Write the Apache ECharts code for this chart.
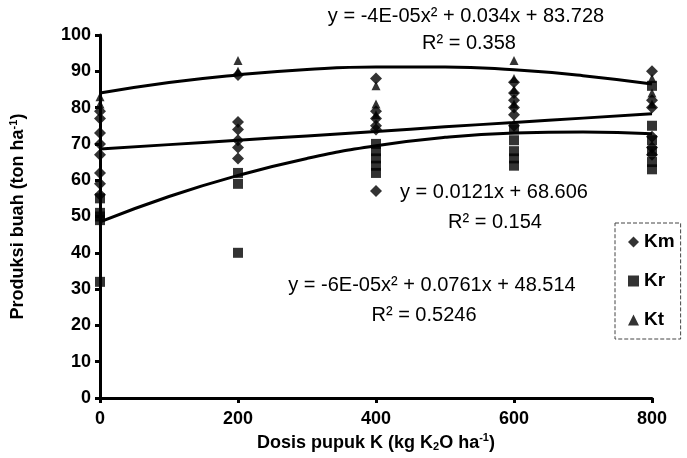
<!DOCTYPE html>
<html>
<head>
<meta charset="utf-8">
<script src="https://cdn.jsdelivr.net/npm/echarts@6/dist/echarts.min.js"></script>
<style>
  html, body { margin: 0; padding: 0; background: #fff; }
  #graph { width: 687px; height: 458px; }
</style>
</head>
<body>
<div id="graph"></div>
<script>
// K dose levels (kg K2O/ha)
var doses = [0, 200, 400, 600, 800];

// replicate yields per dose
var kmValues = [
  [79, 77, 73, 70, 67, 62, 59, 56],
  [89, 76, 74, 71, 69, 66],
  [88, 79, 77, 75, 74, 57],
  [87, 84, 82, 80, 78, 75],
  [90, 82, 80, 72, 69, 67]
];
var krValues = [
  [55, 51, 50, 49, 32],
  [62, 59, 40],
  [70, 68, 66, 64, 62],
  [74, 71, 68, 66, 64],
  [86, 75, 71, 68, 65, 63]
];
var ktValues = [
  [83, 81],
  [93, 90],
  [86, 81, 78],
  [93, 88, 85, 81],
  [88, 84, 81]
];

// trend lines as drawn on the figure
var trendX = [0, 100, 200, 300, 400, 500, 600, 700, 800];
var ktTrend = [84, 86.9, 89, 90.5, 91.2, 91.2, 90.4, 88.8, 86.5];
var kmTrend = [68.6, 69.8, 71, 72.2, 73.4, 74.7, 75.9, 77.1, 78.3];
var krTrend = [48.5, 55.5, 61.3, 66, 69.5, 71.8, 73, 73.3, 72.8];

var font = "'Liberation Sans', Arial, sans-serif";

var toPoints = (vals) => {
  var pts = [];
  vals.forEach((arr, i) => arr.forEach(v => pts.push([doses[i], v])));
  return pts;
};
var toLine = (ys) => trendX.map((x, i) => [x, ys[i]]);

var chart = echarts.init(document.getElementById('graph'));

var eqText = (txt, x, y) => ({
  type: 'text',
  x: x,
  y: y,
  style: {
    text: txt,
    font: '20px ' + font,
    fill: '#000',
    align: 'center',
    verticalAlign: 'middle'
  }
});

var lineSeries = (ys) => ({
  type: 'line',
  data: toLine(ys),
  smooth: true,
  symbol: 'none',
  lineStyle: { color: '#000', width: 3 },
  silent: true,
  z: 3
});

var option = {
  animation: false,
  backgroundColor: '#fff',
  grid: { left: 100, right: 35, top: 35, bottom: 60 },
  legend: {
    orient: 'vertical',
    left: 615,
    top: 223,
    width: 67,
    padding: [8, 6, 8, 13],
    itemGap: 17,
    itemWidth: 11,
    itemHeight: 11,
    borderColor: '#444',
    borderWidth: 1,
    borderType: 'dashed',
    data: [
      { name: 'Km', icon: 'diamond' },
      { name: 'Kr', icon: 'rect' },
      { name: 'Kt', icon: 'triangle' }
    ],
    textStyle: { fontFamily: font, fontSize: 19, fontWeight: 'bold', color: '#000', lineHeight: 22 }
  },
  xAxis: {
    type: 'value',
    min: 0,
    max: 800,
    interval: 200,
    name: '{b|Dosis pupuk K (kg K}{sub|2}{b|O ha}{sup|-1}{b|)}',
    nameLocation: 'middle',
    nameGap: 33,
    nameTextStyle: {
      rich: {
        b: { fontFamily: font, fontSize: 18, fontWeight: 'bold', color: '#000' },
        sub: { fontFamily: font, fontSize: 11, fontWeight: 'bold', color: '#000', padding: [9, 0, 0, 0] },
        sup: { fontFamily: font, fontSize: 11, fontWeight: 'bold', color: '#000', padding: [0, 0, 9, 0] }
      }
    },
    axisLine: { lineStyle: { color: '#000', width: 3 } },
    axisTick: { show: true, length: 5, lineStyle: { color: '#000', width: 3 } },
    axisLabel: { fontFamily: font, fontSize: 18, fontWeight: 'bold', color: '#000', margin: 12 },
    splitLine: { show: false }
  },
  yAxis: {
    type: 'value',
    min: 0,
    max: 100,
    interval: 10,
    name: '{b|Produksi buah (ton ha}{sup|-1}{b|)}',
    nameLocation: 'middle',
    nameGap: 72,
    nameTextStyle: {
      rich: {
        b: { fontFamily: font, fontSize: 18, fontWeight: 'bold', color: '#000' },
        sup: { fontFamily: font, fontSize: 11, fontWeight: 'bold', color: '#000', padding: [0, 0, 9, 0] }
      }
    },
    axisLine: { show: true, lineStyle: { color: '#000', width: 3 } },
    axisTick: { show: true, length: 5, lineStyle: { color: '#000', width: 3 } },
    axisLabel: { fontFamily: font, fontSize: 18, fontWeight: 'bold', color: '#000', margin: 9 },
    splitLine: { show: false }
  },
  graphic: [
    eqText('y = -4E-05x\u00b2 + 0.034x + 83.728', 466, 16),
    eqText('R\u00b2 = 0.358', 469, 43),
    eqText('y = 0.0121x + 68.606', 494, 192),
    eqText('R\u00b2 = 0.154', 495, 222),
    eqText('y = -6E-05x\u00b2 + 0.0761x + 48.514', 432, 285),
    eqText('R\u00b2 = 0.5246', 424, 315)
  ],
  series: [
    lineSeries(ktTrend),
    lineSeries(kmTrend),
    lineSeries(krTrend),
    {
      name: 'Km', type: 'scatter', symbol: 'diamond', symbolSize: 12,
      itemStyle: { color: '#000' }, data: toPoints(kmValues), z: 4
    },
    {
      name: 'Kr', type: 'scatter', symbol: 'rect', symbolSize: 10,
      itemStyle: { color: '#000' }, data: toPoints(krValues), z: 4
    },
    {
      name: 'Kt', type: 'scatter', symbol: 'triangle', symbolSize: 9,
      itemStyle: { color: '#000' }, data: toPoints(ktValues), z: 4
    }
  ]
};

chart.setOption(option);
</script>
</body>
</html>
